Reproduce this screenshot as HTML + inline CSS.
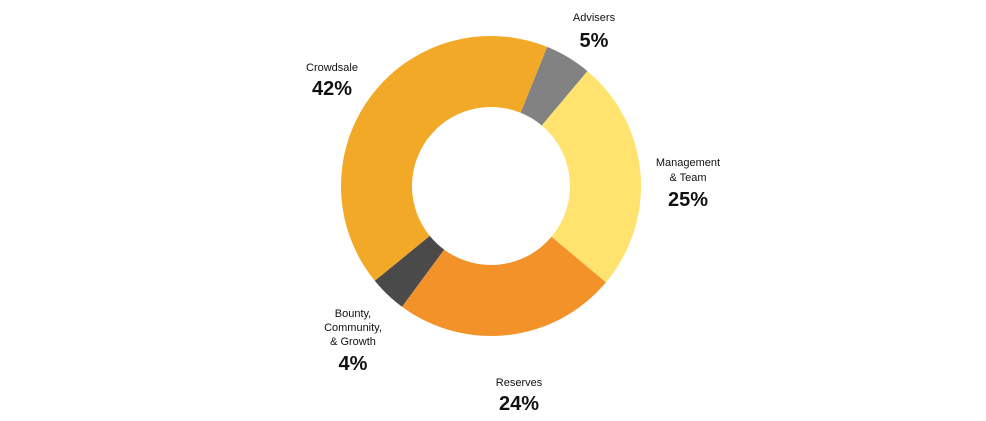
<!DOCTYPE html>
<html><head><meta charset="utf-8"><style>
html,body{margin:0;padding:0;background:#fff;width:986px;height:421px;overflow:hidden}
text{font-family:"Liberation Sans",sans-serif;fill:#111}
.l{font-size:11px}.p{font-size:20px;font-weight:bold}
</style></head><body>
<svg id="chart" width="986" height="421" viewBox="0 0 986 421"></svg>
<script>
const categories=["Advisers","Management & Team","Reserves","Bounty, Community, & Growth","Crowdsale"];
const values=[5,25,24,4,42];
const colors=["#828282","#FFE36E","#F29229","#4A4A4A","#F2A928"];
const cx=491,cy=186,R=150,r=79,start=22;
const svg=document.getElementById('chart');
const NS="http://www.w3.org/2000/svg";
const total=values.reduce((a,b)=>a+b,0);
function pt(a,rad){const t=(a-90)*Math.PI/180;return [cx+rad*Math.cos(t),cy+rad*Math.sin(t)];}
let a=start;
values.forEach((v,i)=>{
  const sweep=v/total*360,b=a+sweep,lg=sweep>180?1:0;
  const [x1,y1]=pt(a,R),[x2,y2]=pt(b,R),[x3,y3]=pt(b,r),[x4,y4]=pt(a,r);
  const p=document.createElementNS(NS,'path');
  p.setAttribute('d',`M${x1},${y1}A${R},${R} 0 ${lg} 1 ${x2},${y2}L${x3},${y3}A${r},${r} 0 ${lg} 0 ${x4},${y4}Z`);
  p.setAttribute('fill',colors[i]);
  
  
  svg.appendChild(p);
  a=b;
});
const labels=[
 {x:594,lines:[["Advisers",21]],py:47,i:0},
 {x:688,lines:[["Management",166],["& Team",181]],py:206,i:1},
 {x:519,lines:[["Reserves",386]],py:410,i:2},
 {x:353,lines:[["Bounty,",317],["Community,",331],["& Growth",345]],py:370,i:3},
 {x:332,lines:[["Crowdsale",71]],py:95,i:4}
];
labels.forEach(L=>{
  L.lines.forEach(([s,y])=>{
    const t=document.createElementNS(NS,'text');
    t.setAttribute('x',L.x);t.setAttribute('y',y);t.setAttribute('text-anchor','middle');t.setAttribute('class','l');
    t.textContent=s;
    
    
    svg.appendChild(t);
  });
  const t=document.createElementNS(NS,'text');
  t.setAttribute('x',L.x);t.setAttribute('y',L.py);t.setAttribute('text-anchor','middle');t.setAttribute('class','p');
  t.textContent=values[L.i]+'%';
  
  
  svg.appendChild(t);
});
</script>
</body></html>
